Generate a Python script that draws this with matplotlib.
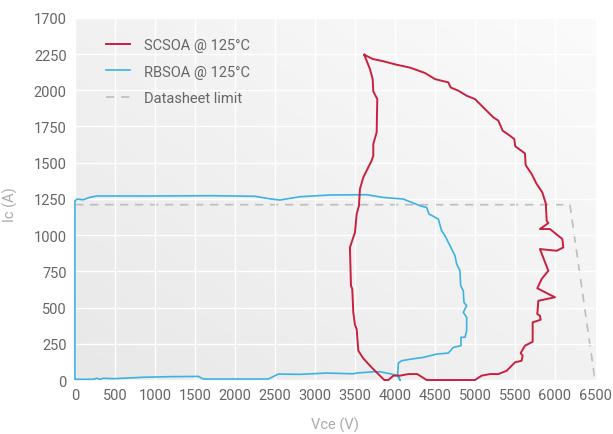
import numpy as np
import matplotlib
matplotlib.use('Agg')
import matplotlib.pyplot as plt

plt.rcParams['font.family'] = ['Roboto', 'DejaVu Sans']

# SCSOA @ 125C (closed loop)
sc_v = [3616, 3721, 3854, 4021, 4188, 4375, 4500, 4667, 4696, 4792, 4896, 5000,
        5125, 5229, 5292, 5346, 5437, 5491, 5504, 5625, 5633, 5708, 5771, 5842,
        5887, 5887, 5896, 5917, 5812, 5937, 6092, 6104, 6021, 5812, 5917, 5833,
        5779, 6000, 5792, 5779, 5812, 5821, 5721, 5721, 5625, 5571, 5596, 5583,
        5500, 5396, 5292, 5187, 5083, 5000, 4396, 4279, 4167, 4062, 3979, 3917,
        3866, 3792, 3708, 3604, 3542, 3521, 3500, 3479, 3466, 3450, 3437, 3458,
        3500, 3521, 3550, 3562, 3604, 3708, 3729, 3729, 3771, 3779, 3729, 3721,
        3687, 3654, 3616]
sc_i = [2245, 2216, 2200, 2176, 2156, 2119, 2077, 2054, 2019, 1997, 1962, 1939,
        1870, 1813, 1790, 1721, 1686, 1663, 1613, 1564, 1484, 1422, 1353, 1295,
        1215, 1203, 1099, 1083, 1042, 1042, 973, 915, 892, 904, 754, 697,
        633, 571, 547, 455, 444, 416, 398, 264, 237, 186, 168, 133,
        122, 64, 41, 41, 30, 0, 0, 41, 41, 30, 30, 0,
        0, 41, 87, 149, 202, 352, 380, 467, 628, 651, 915, 950,
        1019, 1146, 1203, 1318, 1399, 1514, 1548, 1629, 1709, 1939, 1992, 2077,
        2146, 2192, 2245]

# RBSOA @ 125C
rb_v = [4062, 4033, 4042, 4083, 4208, 4354, 4521, 4667, 4729, 4825, 4825, 4875,
        4896, 4896, 4854, 4896, 4862, 4854, 4821, 4812, 4771, 4750, 4625, 4583,
        4542, 4425, 4396, 4312, 4104, 3854, 3646, 3187, 2812, 2560, 2440, 2250,
        1700, 1000, 271, 187, 104, 29, 0,
        0, 229, 271, 312, 354, 479, 854, 1187, 1542, 1604, 2417, 2542, 2812,
        3146, 3479, 3521, 3729, 3812, 3958, 4042, 4062]
rb_i = [0, 30, 117, 133, 145, 156, 179, 186, 225, 237, 295, 295,
        340, 433, 467, 513, 536, 616, 651, 754, 801, 858, 996, 1030,
        1111, 1146, 1191, 1203, 1249, 1260, 1279, 1277, 1265, 1242, 1250, 1268,
        1272, 1270, 1270, 1261, 1244, 1249, 1237,
        5, 5, 12, 5, 12, 9, 19, 23, 25, 7, 7, 41, 39,
        48, 43, 48, 57, 57, 41, 30, 0]

# Datasheet limit
lim_v = [0, 6187, 6500]
lim_i = [1210, 1210, 0]

yticks = [0, 250, 500, 750, 1000, 1250, 1500, 1750, 2000, 2250, 2500]
ylabels = ['0', '250', '500', '750', '1000', '1250', '1500', '1750', '2000', '2250', '1700']
xticks = list(range(0, 6501, 500))

fig = plt.figure(figsize=(6.13, 4.35), dpi=100, facecolor='white')
ax = fig.add_axes([0.1223, 0.1241, 0.8483, 0.8327])
ax.set_xlim(0, 6500)
ax.set_ylim(0, 2500)

# soft gradient background
gx, gy = np.meshgrid(np.linspace(0, 1, 200), np.linspace(0, 1, 200))
grad = (gx + gy) / 2
ax.imshow(grad, extent=[0, 6500, 0, 2500], origin='lower', aspect='auto',
          cmap=matplotlib.colors.LinearSegmentedColormap.from_list('g', ['#e8e8e8', '#fbfbfb']),
          zorder=0)

ax.set_xticks(xticks)
ax.set_yticks(yticks)
ax.set_yticklabels(ylabels)
ax.grid(True, color='white', lw=1.0, zorder=1)
ax.set_axisbelow(False)
for s in ax.spines.values():
    s.set_visible(False)
ax.tick_params(length=0, labelsize=10.5, colors='#666666', pad=6)

ax.plot(lim_v, lim_i, color='#bdbdbd', lw=1.2, ls=(0, (5, 4)), label='Datasheet limit', zorder=2)
ax.plot(rb_v, rb_i, color='#3cb2e2', lw=1.2, label='RBSOA @ 125°C', zorder=3, clip_on=False)
ax.plot(sc_v, sc_i, color='#c8203f', lw=1.4, label='SCSOA @ 125°C', zorder=4, clip_on=False)

h, l = ax.get_legend_handles_labels()
leg = ax.legend(h[::-1], l[::-1], loc='upper left', bbox_to_anchor=(0.035, 0.98), frameon=False,
                fontsize=10.5, handlelength=1.6, labelspacing=0.85, handletextpad=1.0)
for t in leg.get_texts():
    t.set_color('#666666')

ax.set_xlabel('Vce (V)', fontsize=10.5, color='#aaaaaa')
ax.xaxis.set_label_coords(0.5, -0.1)
ax.set_ylabel('Ic (A)', fontsize=10.5, color='#aaaaaa')
ax.yaxis.set_label_coords(-0.11, 0.486)

fig.savefig('out.png', dpi=100)
